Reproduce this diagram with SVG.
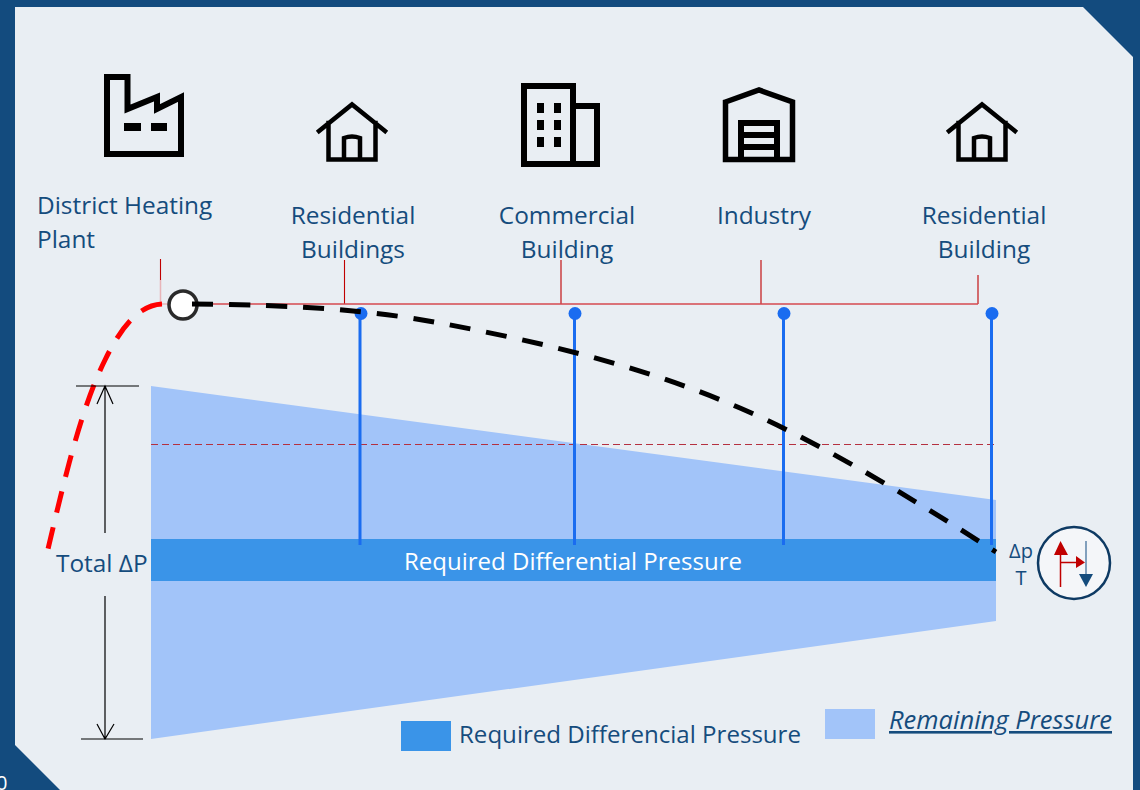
<svg xmlns="http://www.w3.org/2000/svg" width="1140" height="790" viewBox="0 0 1140 790">
<style>
text{font-family:"Open Sans","Noto Sans","Liberation Sans",sans-serif;fill:#154C7D;font-size:24.4px}
.m{text-anchor:middle}
.ic{fill:none;stroke:#000;stroke-width:6}
.ict{fill:none;stroke:#000;stroke-width:4.5}
.r{fill:none;stroke:#C00000;stroke-width:1.1}
.b{stroke:#1A6CF0;stroke-width:3;fill:none}
.k{stroke:#000;stroke-width:1.2;fill:none}
</style>
<defs>
<g id="house">
<path class="ict" d="M-33 28L0 1.500L33 28M-23.500 20V56.500H23.500V20M-8 56V35Q0 32 8 35V56" stroke-linecap="square"/>
</g>
</defs>
<rect width="1140" height="790" fill="#134B7E"/>
<path d="M15 7H1083L1133 57V790H60L15 745Z" fill="#E9EEF3"/>
<text x="-4" y="790" style="fill:#fff;font-size:20px">0</text>

<g id="area">
<path d="M151 386L996 500V621L151 739Z" fill="#A2C4F9"/>
<path d="M151 444.500H996" fill="none" stroke="#B5303F" stroke-width="1.100" stroke-dasharray="7 4"/>
</g>

<g id="factory">
<path class="ic" d="M107 77H127.500V109L157 97V109L181 97V154H107Z"/>
<path d="M124 123H141V131H124ZM151 123H167V131H151Z" fill="#000"/>
</g>
<g id="house-1"><use href="#house" x="352" y="103"/></g>
<g id="commercial">
<path class="ic" d="M524 86H573V164H524ZM573 106H597V164H573Z"/>
<path d="M537 103H544V113H537ZM554 103H561V113H554ZM537 120H544V130H537ZM554 120H561V130H554ZM537 137H544V147H537ZM554 137H561V147H554Z" fill="#000"/>
</g>
<g id="industry">
<path class="ic" d="M725.500 102L759 90L792.500 102V159.500H725.500Z" style="stroke-width:5.500"/>
<path class="ic" d="M741 159V123H777V159M741 135H777M741 147H777"/>
</g>
<g id="house-2"><use href="#house" x="982" y="103"/></g>

<g id="labels">
<text x="37" y="214">District Heating</text>
<text x="37" y="248">Plant</text>
<text x="353" y="224" class="m">Residential</text>
<text x="353" y="258" class="m">Buildings</text>
<text x="567" y="224" class="m">Commercial</text>
<text x="567" y="258" class="m">Building</text>
<text x="764" y="224" class="m">Industry</text>
<text x="984" y="224" class="m">Residential</text>
<text x="984" y="258" class="m">Building</text>
</g>

<g id="connectors">
<path class="r" d="M160.500 259V280M344.500 260V304M561 260V304M761 260V304M978 275V304"/>
<path d="M160.500 280V304H168" fill="none" stroke="#E8B4B8" stroke-width="1.500"/>
<path d="M198 304H978" fill="none" stroke="#D4484F" stroke-width="1.500"/>
<path d="M162 304C140 305 122 325 105 360C80 410 62 490 48 549" fill="none" stroke="#F00" stroke-width="5" stroke-dasharray="22 15"/>
</g>

<g id="required-bar">
<rect x="151" y="539" width="845" height="42" fill="#3A94E8"/>
<text x="573" y="570" class="m" style="fill:#fff;font-size:24px">Required Differential Pressure</text>
</g>

<g id="branches">
<path class="b" d="M360 314V545M574.500 314V545M783.500 314V545M991.500 314V545"/>
<g fill="#1A6CF0"><circle cx="361" cy="313.500" r="6.500"/><circle cx="575" cy="313.500" r="6.500"/><circle cx="784" cy="313.500" r="6.500"/><circle cx="992" cy="313.500" r="6.500"/></g>
</g>

<g id="pump">
<circle cx="183" cy="305" r="14" fill="#fff" stroke="#2A2A2A" stroke-width="3.500"/>
</g>

<g id="curve">
<path d="M192 304C300 305 370 310 440 323C540 342 640 365 740 408C830 447 930 510 996 552" fill="none" stroke="#000" stroke-width="5" stroke-dasharray="21 16"/>
</g>

<g id="dimension">
<path class="k" d="M76 386H139M105 386V533M105 596V739M81 739H143M97 404L105 386L113 404M97 724L105 739L114 724"/>
<text x="56" y="572">Total ΔP</text>
</g>

<g id="dpt">
<text x="1021" y="558" class="m" style="font-size:20px">Δp</text>
<text x="1021" y="585" class="m" style="font-size:20px">T</text>
<circle cx="1074" cy="563" r="36" fill="#F4F6F9" stroke="#0E3A63" stroke-width="2.500"/>
<path d="M1060.500 587V550M1061 562.500H1078" stroke="#C00000" stroke-width="1.500" fill="none"/>
<path d="M1054 555L1060.500 541L1068 555ZM1076 556L1085 562.500L1076 568Z" fill="#C00000"/>
<path d="M1086 541V575" stroke="#5C83A8" stroke-width="1.500" fill="none"/>
<path d="M1079 574H1093L1086 587Z" fill="#154C7D"/>
</g>

<g id="legend">
<rect x="401" y="721" width="50" height="30" fill="#3A94E8"/>
<text x="459" y="743" style="font-size:24.500px" textLength="342" lengthAdjust="spacingAndGlyphs">Required Differencial Pressure</text>
<rect x="825" y="709" width="50" height="30" fill="#A2C4F9"/>
<text x="889" y="729" style="font-style:italic;font-size:26px" text-decoration="underline" textLength="223" lengthAdjust="spacingAndGlyphs">Remaining Pressure</text>
</g>
</svg>
